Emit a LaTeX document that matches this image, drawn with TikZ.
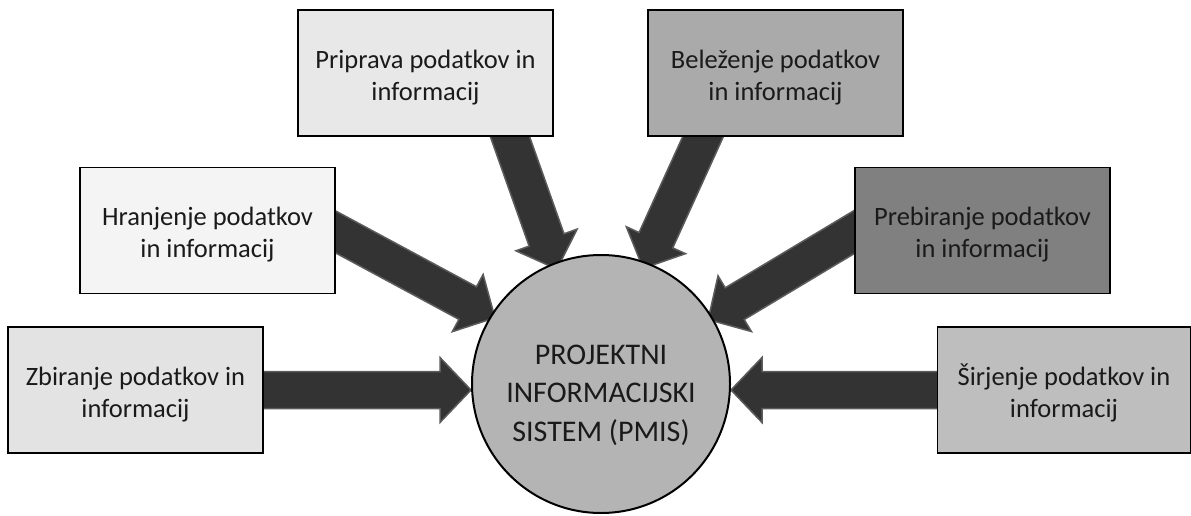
\documentclass[tikz,border=0pt]{standalone}
\usepackage{fontspec}
\setmainfont{Carlito}
\usetikzlibrary{calc}
\pgfdeclarelayer{bg}
\pgfsetlayers{bg,main}
\definecolor{zbfill}{HTML}{E3E3E3}
\definecolor{hrfill}{HTML}{F4F4F4}
\definecolor{ppfill}{HTML}{E8E8E8}
\definecolor{blfill}{HTML}{AAAAAA}
\definecolor{pbfill}{HTML}{808080}
\definecolor{sjfill}{HTML}{BEBEBE}
\definecolor{hubfill}{HTML}{B4B4B4}
\definecolor{arrfill}{HTML}{333333}
\definecolor{arredge}{HTML}{5C5C5C}
\definecolor{txt}{HTML}{1A1A1A}
\newcommand\lowtext[2]{\raisebox{-#1}[\height][\depth]{\begin{tabular}{@{}c@{}}#2\end{tabular}}}
\tikzset{
  box/.style={draw=black, line width=1.5pt, minimum width=255pt, minimum height=126pt,
    inner sep=0pt, font=\fontsize{26.5}{32}\selectfont, text=txt},
  hub/.style={circle, draw=black, line width=2pt, fill=hubfill, minimum size=258pt,
    inner sep=0pt, font=\fontsize{30}{38.5}\selectfont, text=txt},
  blockarrow/.style={fill=arrfill, draw=arredge, line width=1.5pt, line join=miter}
}
\newcommand\blockarr[2]{%
  \path ($(#1)!-12pt!(#2)$) coordinate (bA) (#2) coordinate (bB) ($(#2)!31pt!(#1)$) coordinate (bC);
  \draw[blockarrow] ($(bA)!18.5pt!90:(bB)$) -- ($(bC)!18.5pt!-90:(bA)$) -- ($(bC)!32.5pt!-90:(bA)$)
    -- (bB) -- ($(bC)!32.5pt!90:(bA)$) -- ($(bC)!18.5pt!90:(bA)$) -- ($(bA)!18.5pt!-90:(bB)$) -- cycle;}
\begin{document}
\begin{tikzpicture}[x=1pt,y=-1pt]
\useasboundingbox (0,0) rectangle (1191,516);
\node[box, fill=zbfill] (zb) at (135.5,390) {\lowtext{5pt}{Zbiranje podatkov in\\informacij}};
\node[box, fill=hrfill] (hr) at (207.5,230.5) {\lowtext{5pt}{Hranjenje podatkov\\in informacij}};
\node[box, fill=ppfill] (pp) at (425.5,73) {\lowtext{5pt}{Priprava podatkov in\\informacij}};
\node[box, fill=blfill] (bl) at (775.5,73) {\lowtext{5pt}{Beleženje podatkov\\in informacij}};
\node[box, fill=pbfill] (pb) at (982.5,230.5) {\lowtext{5pt}{Prebiranje podatkov\\in informacij}};
\node[box, fill=sjfill, minimum width=253pt] (sj) at (1064,390) {\lowtext{5pt}{Širjenje podatkov in\\informacij}};
\node[hub] (c) at (601,384) {\lowtext{11pt}{PROJEKTNI\\INFORMACIJSKI\\SISTEM (PMIS)}};
\coordinate (s1) at (zb.east);
\coordinate (s2) at ($(hr.east)+(0,1.5)$);
\coordinate (s3) at ($(pp.south)+(84.5,0)$);
\coordinate (s4) at ($(bl.south)+(-72.5,0)$);
\coordinate (s5) at ($(pb.west)+(0,1.5)$);
\coordinate (s6) at (sj.west);
\coordinate (t1) at (s1 -| c.west);
\coordinate (t2) at ($(c.center)!125pt!(c.148)$);
\coordinate (t3) at ($(c.center)!123pt!(c.111)$);
\coordinate (t4) at ($(c.center)!123pt!(c.70)$);
\coordinate (t5) at ($(c.center)!125pt!(c.31)$);
\coordinate (t6) at (s6 -| c.east);
\begin{pgfonlayer}{bg}
\blockarr{s1}{t1}
\blockarr{s2}{t2}
\blockarr{s3}{t3}
\blockarr{s4}{t4}
\blockarr{s5}{t5}
\blockarr{s6}{t6}
\end{pgfonlayer}
\end{tikzpicture}
\end{document}
